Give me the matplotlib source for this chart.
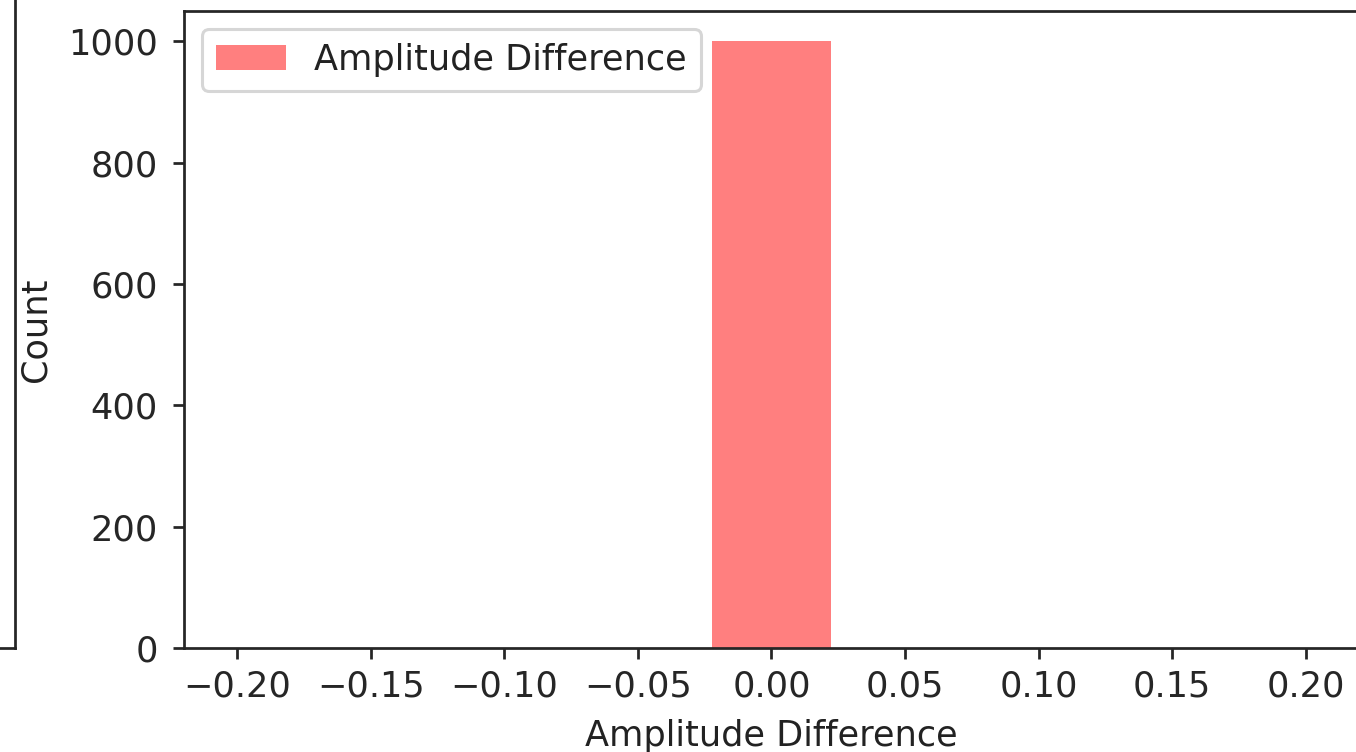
import numpy as np
import matplotlib
matplotlib.use("Agg")
import matplotlib.pyplot as plt

# histogram of amplitude differences (all samples fall in the central bin)
bin_range = (-0.2, 0.2)
n_bins = 9
bin_counts = [0, 0, 0, 0, 1000, 0, 0, 0, 0]
x_ticks = [-0.20, -0.15, -0.10, -0.05, 0.00, 0.05, 0.10, 0.15, 0.20]
y_ticks = [0, 200, 400, 600, 800, 1000]

edges = np.linspace(bin_range[0], bin_range[1], n_bins + 1)
centers = 0.5 * (edges[:-1] + edges[1:])

plt.rcParams.update({
    'font.size': 11.5,
    'text.color': '#222222',
    'axes.labelcolor': '#222222',
    'axes.edgecolor': '#262626',
    'axes.linewidth': 0.9,
    'xtick.color': '#262626',
    'ytick.color': '#262626',
    'xtick.major.width': 0.9,
    'ytick.major.width': 0.9,
    'ytick.major.pad': 5,
})

dpi = 220
fig = plt.figure(figsize=(1356 / dpi, 752 / dpi), dpi=dpi)

# neighbouring panel, only its right/bottom edge shows
ax_left = fig.add_axes([-0.6, 0.1383, 0.6111, 1.0])
ax_left.set_xticks([])
ax_left.set_yticks([])

ax = fig.add_axes([0.1357, 0.1383, 0.8665, 0.8471])
ax.hist(centers, bins=edges, weights=bin_counts, color='red', alpha=0.5,
        label='Amplitude Difference')
ax.set_xticks(x_ticks)
ax.set_yticks(y_ticks)
ax.set_xlabel('Amplitude Difference', labelpad=5)
ax.set_ylabel('Count', labelpad=5)
ax.legend(loc='upper left')

fig.savefig('out.png', dpi=dpi)
